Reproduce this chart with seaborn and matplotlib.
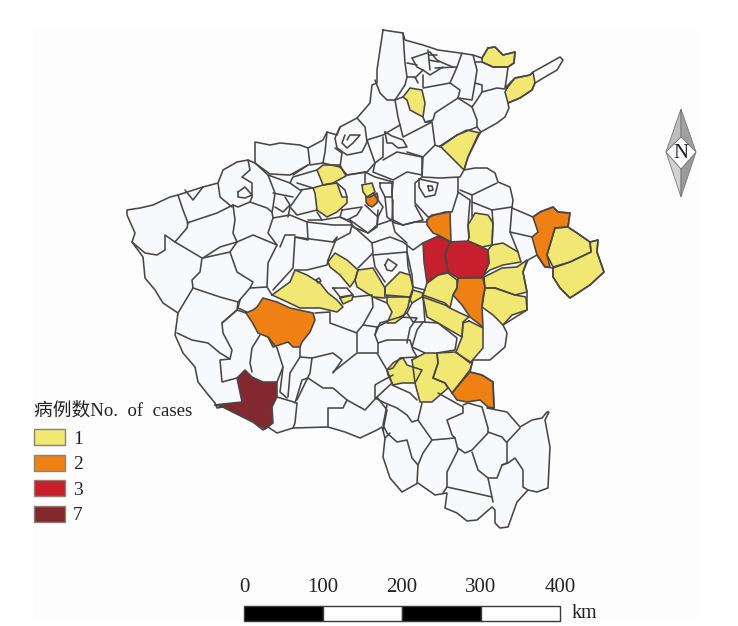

import pandas as pd
import matplotlib.pyplot as plt
from matplotlib.patches import Patch
import seaborn as sns

# ── map data (traced in image pixels) ────────────────────────────
province_outline = [
    (383, 30), (403, 33), (405, 40), (423, 45), (438, 50), (460, 53), (473, 55), (482, 58),
    (488, 48), (495, 47), (503, 55), (515, 52), (514, 63), (508, 67), (507, 75), (505, 88),
    (515, 78), (530, 75), (533, 72), (560, 57), (563, 60), (557, 70), (545, 77), (535, 83),
    (532, 90), (520, 98), (508, 103), (509, 108), (505, 117), (497, 123), (481, 132),
    (478, 135), (468, 157), (464, 170), (475, 168), (487, 168), (495, 173), (498, 182),
    (510, 187), (513, 200), (512, 208), (533, 217), (540, 212), (553, 207), (558, 212),
    (570, 213), (568, 227), (577, 233), (590, 242), (598, 240), (597, 252), (604, 272),
    (590, 285), (570, 298), (560, 288), (553, 277), (553, 268), (545, 267), (537, 255),
    (528, 260), (523, 272), (527, 292), (527, 310), (503, 325), (507, 333), (505, 347),
    (490, 360), (473, 360), (470, 372), (482, 375), (493, 382), (494, 408), (487, 408),
    (507, 412), (520, 427), (532, 420), (542, 418), (547, 412), (549, 412), (545, 420),
    (550, 447), (548, 488), (537, 492), (528, 490), (517, 502), (508, 527), (500, 528),
    (495, 523), (495, 510), (492, 507), (477, 520), (467, 521), (457, 513), (445, 508),
    (447, 493), (435, 495), (418, 483), (402, 492), (390, 478), (383, 457), (385, 438),
    (382, 427), (377, 430), (360, 438), (345, 432), (328, 427), (293, 428), (277, 433),
    (268, 427), (263, 430), (253, 422), (243, 417), (223, 407), (217, 408), (215, 403),
    (210, 397), (198, 382), (195, 367), (183, 353), (175, 335), (178, 313), (163, 303),
    (155, 290), (145, 278), (143, 257), (132, 242), (135, 233), (127, 215), (127, 210),
    (140, 208), (153, 205), (170, 197), (178, 195), (203, 187), (218, 183), (223, 170),
    (237, 162), (248, 160), (255, 163), (255, 142), (270, 145), (280, 143), (300, 145),
    (308, 148), (323, 140), (327, 132), (337, 135), (340, 127), (357, 118), (370, 103),
    (372, 85), (377, 83), (377, 70),
]

county_borders = [
    # north
    [(403, 33), (405, 63), (407, 77), (405, 85), (395, 100)],
    [(375, 80), (380, 93), (387, 100), (395, 100), (403, 97)],
    [(395, 100), (398, 117), (400, 125), (383, 135), (367, 140)],
    [(357, 118), (365, 127), (367, 142), (362, 152), (347, 155), (337, 148), (335, 138), (340, 127)],
    [(345, 135), (342, 143), (347, 148), (353, 143), (360, 135), (350, 135), (347, 140)],
    [(327, 132), (325, 152), (323, 163), (310, 165), (308, 148)],
    [(335, 148), (342, 153), (340, 167), (323, 163)],
    [(255, 163), (270, 174), (290, 175), (308, 165)],
    [(367, 140), (375, 163), (367, 172), (347, 175), (340, 167)],
    [(375, 163), (383, 157), (383, 137)],
    [(385, 132), (392, 136), (403, 140), (407, 147), (398, 148), (392, 143), (387, 143), (385, 132)],
    [(400, 125), (403, 137), (432, 122), (435, 145), (423, 157), (407, 152)],
    [(383, 160), (397, 152), (422, 157), (422, 175), (407, 172), (393, 180), (373, 172), (375, 163)],
    [(423, 117), (425, 122), (432, 122)],
    [(423, 88), (450, 83), (460, 90), (458, 98), (435, 113), (433, 120), (425, 122)],
    [(450, 83), (457, 67), (462, 53)],
    [(473, 55), (477, 70), (475, 83), (472, 100), (458, 98)],
    [(475, 62), (482, 62), (493, 67), (507, 67)],
    [(475, 83), (482, 85), (482, 92), (497, 88), (505, 89)],
    [(482, 92), (477, 100), (472, 107), (458, 98)],
    [(472, 107), (477, 120), (477, 127), (481, 132)],
    [(477, 127), (457, 135), (440, 147), (435, 145)],
    [(423, 157), (422, 177), (440, 178), (460, 177), (464, 170)],
    [(422, 177), (415, 183), (415, 203), (428, 217), (445, 212), (452, 212), (458, 193), (458, 178)],
    [(419, 179), (438, 183), (435, 195), (425, 197), (419, 187), (419, 179)],
    [(428, 186), (432, 186), (433, 190), (429, 191), (428, 186)],
    [(460, 190), (472, 195), (497, 183)],
    [(472, 195), (472, 217)],
    [(472, 202), (492, 210), (512, 207)],
    [(458, 192), (470, 200), (468, 225), (469, 237)],
    [(492, 210), (493, 223), (492, 245)],
    [(512, 207), (510, 232), (532, 237)],
    [(510, 232), (518, 252)],
    # grid of small towns in the north
    [(412, 58), (430, 52), (437, 60), (443, 63), (453, 67)],
    [(407, 77), (415, 77), (418, 83)],
    [(415, 78), (423, 70), (430, 75), (443, 67)],
    [(428, 50), (430, 70)],
    [(412, 58), (417, 67), (423, 70)],
    [(407, 63), (417, 65)],
    [(423, 87), (423, 75)],
    [(457, 67), (435, 68)],
    [(429, 55), (437, 55)],
    [(429, 60), (439, 62)],
    # west
    [(132, 242), (145, 253), (157, 255), (165, 250), (165, 235), (175, 242), (187, 228), (188, 223), (183, 210), (178, 195)],
    [(175, 242), (202, 258), (200, 272), (192, 280), (193, 288), (178, 313)],
    [(187, 223), (217, 213), (233, 205), (238, 207), (250, 202), (267, 208), (272, 212)],
    [(218, 183), (220, 197), (232, 207)],
    [(185, 190), (193, 200), (203, 187)],
    [(248, 160), (250, 170), (242, 177), (252, 183), (252, 197), (250, 202)],
    [(255, 163), (268, 175), (275, 193), (273, 207), (272, 212), (273, 218), (268, 233), (277, 245)],
    [(238, 192), (245, 187), (252, 195), (245, 198), (238, 197), (238, 192)],
    [(233, 205), (235, 220), (233, 233), (237, 242), (220, 247), (203, 258)],
    [(237, 242), (253, 235), (277, 245), (268, 263), (267, 287), (272, 295)],
    [(273, 218), (290, 215), (307, 222), (333, 225), (352, 225), (350, 233), (333, 242)],
    [(290, 207), (297, 215), (317, 210)],
    [(302, 190), (290, 207), (288, 217)],
    [(307, 222), (308, 240), (295, 237), (293, 268), (273, 290)],
    [(280, 247), (285, 235), (295, 235)],
    [(295, 237), (333, 242), (337, 237), (328, 260), (327, 265), (307, 270), (295, 270)],
    [(293, 175), (308, 165)],
    [(290, 183), (293, 177), (317, 170)],
    [(297, 183), (313, 188)],
    [(268, 175), (290, 183), (300, 190), (313, 188)],
    [(273, 193), (293, 197)],
    [(275, 207), (283, 212), (290, 205), (285, 197)],
    [(317, 212), (322, 220), (308, 220)],
    [(322, 220), (340, 217), (352, 223)],
    [(347, 175), (365, 172), (365, 183)],
    [(365, 172), (375, 177), (393, 182)],
    [(342, 210), (362, 207), (357, 215), (347, 220), (340, 217), (342, 210)],
    [(337, 183), (345, 190), (347, 197)],
    [(365, 205), (378, 217), (377, 227), (368, 233), (353, 227), (350, 220)],
    [(380, 183), (392, 183), (392, 197), (385, 197), (380, 187), (380, 183)],
    [(385, 197), (387, 217), (395, 223), (403, 225)],
    [(373, 193), (383, 207), (378, 217)],
    [(393, 182), (392, 193), (393, 220), (403, 225), (423, 220), (415, 205)],
    [(403, 225), (415, 222), (427, 222)],
    [(350, 220), (368, 233), (377, 225), (378, 210)],
    [(377, 225), (392, 220), (395, 232), (407, 243)],
    [(392, 220), (393, 200)],
    [(352, 225), (372, 243), (373, 253), (358, 268)],
    [(372, 243), (390, 237), (403, 242), (413, 250), (423, 243)],
    [(373, 255), (407, 252), (408, 267), (410, 275)],
    [(373, 255), (375, 267), (385, 282)],
    [(385, 265), (388, 259), (397, 265), (392, 271), (387, 270), (385, 265)],
    [(407, 245), (407, 252), (412, 275), (413, 287), (425, 290)],
    [(333, 288), (347, 288), (353, 295), (340, 297), (333, 288)],
    [(316, 280), (319, 278), (321, 281), (318, 283), (316, 280)],
    # south-west
    [(193, 288), (220, 297), (238, 302), (237, 310), (222, 323), (223, 333), (232, 350), (230, 359), (220, 353), (208, 343), (192, 340), (177, 333)],
    [(203, 258), (230, 252), (237, 272), (253, 282), (250, 288), (238, 302)],
    [(230, 252), (237, 242)],
    [(240, 300), (238, 308), (247, 312)],
    [(250, 288), (267, 287)],
    [(222, 323), (237, 310), (246, 313)],
    [(230, 359), (220, 360), (222, 382), (237, 378)],
    [(260, 335), (252, 348), (250, 363), (252, 372)],
    [(268, 337), (277, 348), (283, 367), (277, 382)],
    [(300, 347), (300, 357), (290, 373), (288, 397)],
    [(283, 367), (280, 392), (287, 398)],
    [(277, 397), (297, 403), (295, 423), (293, 428)],
    [(300, 357), (312, 358), (310, 373), (297, 400)],
    [(312, 358), (333, 353), (342, 360), (333, 373)],
    [(295, 403), (302, 380), (308, 378), (323, 388), (333, 388), (347, 400), (343, 408), (328, 408), (328, 427)],
    [(333, 372), (357, 353), (377, 353), (387, 370), (392, 383), (377, 397), (365, 410), (347, 400)],
    [(377, 397), (387, 410), (383, 430)],
    [(392, 385), (410, 393), (417, 400)],
    [(315, 313), (330, 312), (330, 323), (357, 333), (357, 352)],
    [(353, 297), (372, 295), (373, 307), (363, 325), (357, 332)],
    [(373, 297), (387, 303)],
    [(363, 325), (377, 327), (387, 322)],
    [(377, 327), (375, 335), (378, 343), (378, 353)],
    [(375, 335), (380, 323), (400, 317), (417, 318), (410, 328), (407, 343)],
    [(378, 343), (387, 340), (410, 340), (413, 350), (417, 357), (400, 358), (393, 368), (387, 370)],
    [(423, 322), (438, 323), (457, 338), (455, 350), (437, 353)],
    [(423, 322), (417, 330), (412, 347), (425, 353)],
    [(412, 303), (407, 313), (413, 322), (425, 322), (423, 297)],
    [(400, 317), (407, 313)],
    # south
    [(375, 398), (385, 403), (397, 408), (407, 415), (412, 422), (418, 420), (422, 403)],
    [(375, 398), (375, 385), (380, 382), (393, 375)],
    [(387, 405), (383, 425), (387, 433), (397, 442), (407, 440), (412, 458), (418, 465)],
    [(385, 438), (390, 433)],
    [(418, 420), (432, 440), (423, 453), (418, 465), (417, 483)],
    [(438, 393), (463, 407), (463, 413), (447, 420), (452, 435), (455, 438)],
    [(432, 440), (455, 438), (458, 450), (447, 472), (447, 487), (443, 493)],
    [(463, 405), (468, 403), (482, 407), (488, 428), (488, 433), (472, 450), (465, 453), (458, 448)],
    [(488, 432), (502, 437), (507, 443), (507, 463), (502, 465), (497, 478), (488, 478), (478, 470), (472, 452)],
    [(507, 442), (520, 428)],
    [(502, 465), (508, 463), (515, 458), (523, 470), (523, 487), (528, 490)],
    [(488, 478), (492, 497), (493, 502)],
    [(447, 487), (470, 492), (492, 497)],
]

# counties with at least one case, and their counts
case_counties = [
    [(488, 48), (495, 47), (503, 55), (515, 52), (514, 63), (508, 67), (493, 67), (482, 62), (482, 58)],
    [(507, 88), (515, 78), (530, 75), (533, 72), (535, 83), (532, 90), (520, 98), (508, 103), (505, 92)],
    [(403, 97), (410, 88), (422, 90), (425, 103), (423, 117), (410, 110), (407, 100)],
    [(440, 146), (457, 135), (467, 130), (480, 133), (468, 157), (464, 170)],
    [(317, 170), (323, 165), (340, 165), (346, 176), (333, 183), (323, 185)],
    [(313, 188), (323, 185), (337, 183), (342, 197), (347, 197), (347, 203), (337, 212), (327, 217), (317, 210), (315, 193)],
    [(362, 185), (372, 183), (375, 192), (367, 197), (363, 192)],
    [(469, 237), (468, 225), (475, 213), (488, 215), (493, 223), (492, 245), (482, 247), (468, 241)],
    [(492, 245), (503, 243), (518, 252), (521, 262), (503, 265), (490, 270), (484, 275), (489, 263), (488, 250)],
    [(484, 277), (502, 268), (517, 267), (527, 260), (523, 272), (527, 292), (515, 295), (495, 288), (485, 288)],
    [(485, 288), (495, 288), (515, 295), (526, 297), (527, 310), (512, 315), (503, 325), (493, 315), (482, 307), (483, 297)],
    [(427, 283), (438, 275), (448, 273), (457, 280), (457, 288), (453, 295), (450, 308), (445, 303), (423, 295)],
    [(423, 297), (445, 305), (450, 308), (458, 312), (469, 317), (463, 322), (462, 337), (450, 330), (438, 323), (427, 317)],
    [(469, 321), (483, 328), (483, 348), (470, 363), (456, 352), (462, 337), (463, 323)],
    [(437, 353), (455, 352), (472, 363), (470, 370), (452, 393), (445, 383), (433, 378), (438, 363)],
    [(412, 360), (425, 353), (437, 353), (438, 363), (433, 378), (445, 383), (448, 388), (432, 402), (420, 402), (415, 383), (413, 367)],
    [(387, 370), (393, 363), (398, 360), (403, 358), (407, 365), (422, 370), (415, 383), (402, 383), (393, 385), (388, 375)],
    [(555, 228), (568, 227), (577, 233), (590, 242), (591, 252), (570, 262), (553, 267), (547, 255)],
    [(553, 268), (570, 262), (591, 252), (590, 242), (598, 240), (597, 252), (604, 272), (590, 285), (570, 298), (560, 288), (553, 277)],
    [(328, 262), (335, 253), (347, 260), (358, 270), (355, 280), (350, 287), (340, 275), (330, 267)],
    [(358, 270), (373, 268), (385, 288), (385, 298), (373, 297), (357, 287), (355, 280)],
    [(385, 287), (400, 272), (410, 275), (413, 288), (410, 297), (385, 295)],
    [(387, 297), (410, 297), (408, 307), (403, 317), (395, 323), (387, 323), (392, 312), (387, 303)],
    [(410, 300), (413, 290), (423, 293), (422, 297), (412, 303)],
    [(272, 295), (283, 287), (290, 282), (295, 270), (307, 275), (320, 283), (328, 293), (337, 300), (343, 307), (337, 312), (320, 308), (300, 308), (283, 300)],
    [(340, 298), (353, 295), (352, 300), (343, 304)],
    [(366, 197), (370, 197), (377, 193), (378, 198), (377, 203), (372, 207), (368, 205), (366, 202)],
    [(427, 220), (432, 215), (450, 212), (451, 242), (438, 235), (433, 233), (427, 225)],
    [(458, 278), (483, 278), (485, 288), (482, 307), (483, 327), (470, 317), (462, 305), (453, 295), (457, 288)],
    [(452, 393), (470, 372), (482, 375), (493, 382), (494, 408), (488, 407), (480, 400), (467, 402), (457, 400)],
    [(533, 217), (540, 212), (553, 207), (558, 212), (570, 213), (568, 227), (555, 228), (547, 255), (550, 267), (545, 267), (537, 255), (532, 237), (538, 232)],
    [(246, 313), (253, 310), (257, 307), (263, 298), (277, 302), (290, 308), (313, 313), (315, 320), (310, 332), (302, 342), (300, 347), (293, 347), (288, 342), (273, 347), (268, 337), (258, 333), (252, 322)],
    [(423, 243), (438, 236), (450, 242), (445, 255), (448, 272), (438, 275), (427, 283), (424, 262)],
    [(450, 242), (468, 241), (482, 247), (488, 250), (489, 263), (483, 277), (458, 278), (448, 272), (445, 255)],
    [(215, 405), (223, 404), (242, 402), (237, 378), (245, 370), (252, 377), (263, 382), (277, 382), (277, 397), (272, 407), (273, 423), (265, 429), (253, 422), (243, 417), (223, 407)],
]
case_counts = [1] * 26 + [2] * 6 + [3] * 2 + [7]

legend_values = [1, 2, 3, 7]
legend_colors = ["#f0e872", "#ef8114", "#c81f2d", "#82282e"]
legend_title = "病例数No.  of  cases"

scale_ticks = [0, 100, 200, 300, 400]
scale_unit = "km"

TEXT_FONT = ["Liberation Serif", "Noto Sans CJK SC"]
LAND = "#f7f9fc"
EDGE = "#4a4646"
PX_PER_KM = 0.79


def draw_map(ax):
    ax.fill(*zip(*province_outline), facecolor=LAND, edgecolor="none", zorder=2)

    palette = dict(zip(legend_values, legend_colors))
    for county, count in zip(case_counties, case_counts):
        ax.fill(*zip(*county), facecolor=palette[count], edgecolor="none", zorder=3)

    # all county edges go through one long table, one unit per border
    rows = []
    closed_outline = province_outline + province_outline[:1]
    for i, line in enumerate(county_borders + case_counties + [closed_outline]):
        ring = line + line[:1] if line in case_counties else line
        rows += [{"border": i, "x": x, "y": y} for x, y in ring]
    sns.lineplot(data=pd.DataFrame(rows), x="x", y="y", units="border", estimator=None,
                 sort=False, color=EDGE, linewidth=1.15, solid_joinstyle="round",
                 solid_capstyle="round", ax=ax, zorder=4)


def draw_legend(ax):
    handles = [Patch(facecolor=c, edgecolor="#8a8474", linewidth=1.0) for c in legend_colors]
    leg = ax.legend(handles, [str(v) for v in legend_values], title=legend_title,
                    loc="upper left", bbox_to_anchor=(34, 402), bbox_transform=ax.transData,
                    frameon=False, borderpad=0, borderaxespad=0, handlelength=1.6,
                    handleheight=0.88, handletextpad=0.4, labelspacing=0.35,
                    prop={"family": TEXT_FONT, "size": 14},
                    title_fontproperties={"family": TEXT_FONT, "size": 13.5})
    leg._legend_box.align = "left"
    leg._legend_box.sep = 7
    leg.get_title().set_color("#222222")
    for label in leg.get_texts():
        label.set_color("#222222")


def draw_scale_bar(ax):
    x0, y0, bar_h = 244, 606, 15
    for left, right, i in zip(scale_ticks[:-1], scale_ticks[1:], range(4)):
        ax.barh(y0 + bar_h / 2, (right - left) * PX_PER_KM, height=bar_h,
                left=x0 + left * PX_PER_KM, color="black" if i % 2 == 0 else "white",
                edgecolor="#3a3a3a", linewidth=1.0, zorder=5)
    for tick in scale_ticks:
        ax.text(x0 + tick * PX_PER_KM, 587, str(tick), ha="center", va="center",
                family=TEXT_FONT, fontsize=15, color="#222222")
    ax.text(572, 614, scale_unit, ha="left", va="center", family=TEXT_FONT,
            fontsize=14.5, color="#222222")


def draw_north_arrow(ax):
    top, bottom, left, right = (681, 109), (681, 197), (666, 152), (696, 152)
    centre_top, centre_bottom = (681, 137), (681, 169)
    ax.fill(*zip(top, centre_top, left), facecolor="#bdbdbd", edgecolor="#777777", linewidth=0.6, zorder=5)
    ax.fill(*zip(top, centre_top, right), facecolor="#a0a0a0", edgecolor="#777777", linewidth=0.6, zorder=5)
    ax.fill(*zip(bottom, centre_bottom, left), facecolor="#d2d2d2", edgecolor="#777777", linewidth=0.6, zorder=5)
    ax.fill(*zip(bottom, centre_bottom, right), facecolor="#9a9a9a", edgecolor="#777777", linewidth=0.6, zorder=5)
    ax.fill(*zip(centre_top, right, centre_bottom, left), facecolor="white",
            edgecolor="#777777", linewidth=0.6, zorder=6)
    ax.text(681, 153, "N", ha="center", va="center", family=TEXT_FONT, fontsize=15,
            color="#1c1c3a", zorder=7)


def main():
    sns.set_theme(style="white")
    plt.rcParams["font.family"] = TEXT_FONT

    fig = plt.figure(figsize=(7.38, 6.26), dpi=100, facecolor="white")
    ax = fig.add_axes([0, 0, 1, 1])

    # the scanned page is a shade off white inside the figure area
    ax.fill([33, 700, 700, 33], [28, 28, 620, 620], facecolor="#fdfdfd", edgecolor="none", zorder=0)

    draw_map(ax)
    draw_legend(ax)
    draw_scale_bar(ax)
    draw_north_arrow(ax)

    ax.set_xlim(0, 738)
    ax.set_ylim(626, 0)
    ax.set_xlabel("")
    ax.set_ylabel("")
    ax.axis("off")
    fig.savefig("out.png", dpi=100)


if __name__ == "__main__":
    main()
